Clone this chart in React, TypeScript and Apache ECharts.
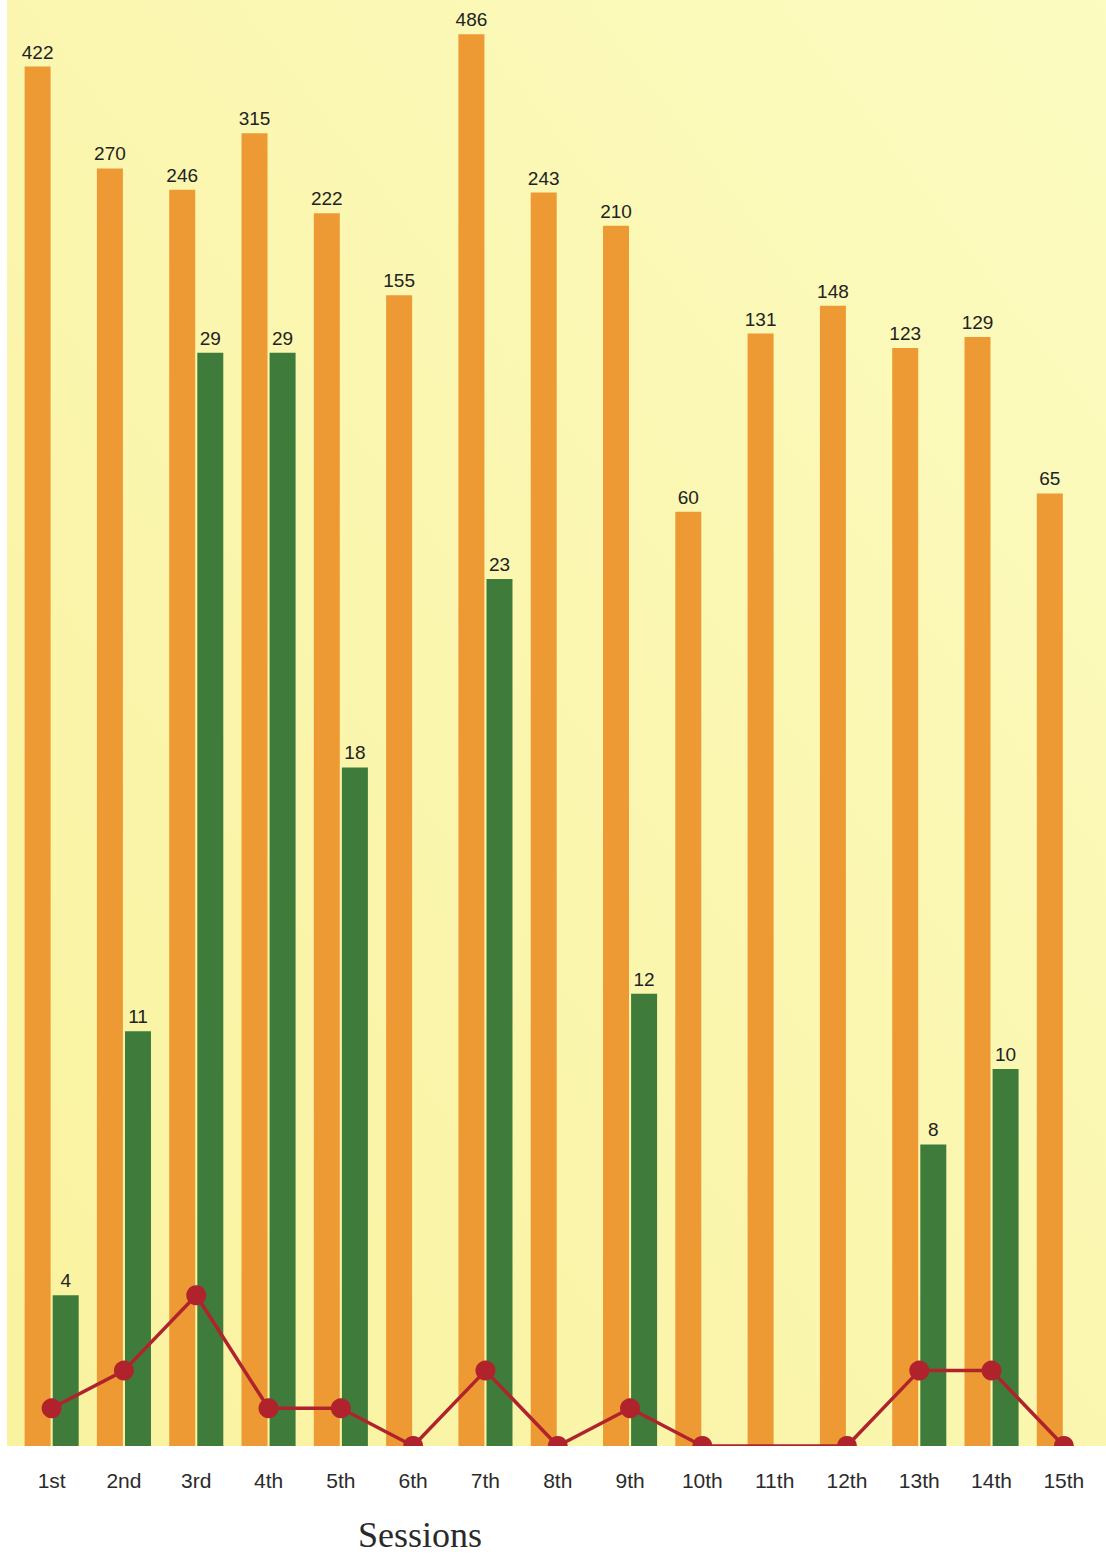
import React, { useEffect, useRef } from "react";
import * as echarts from "echarts";

const sessions = ["1st", "2nd", "3rd", "4th", "5th", "6th", "7th", "8th", "9th", "10th", "11th", "12th", "13th", "14th", "15th"];
const orangeValues = [422, 270, 246, 315, 222, 155, 486, 243, 210, 60, 131, 148, 123, 129, 65];
const greenValues: (number | null)[] = [4, 11, 29, 29, 18, null, 23, null, 12, null, null, null, 8, 10, null];
const redValues: (number | null)[] = [1, 2, 4, 1, 1, 0, 2, 0, 1, 0, null, 0, 2, 2, 0];
const axisTitle = "Sessions";

const ORANGE = "#ee9a34";
const GREEN = "#3f7c3c";
const RED = "#b0232c";

export default function App() {
  const ref = useRef<HTMLDivElement>(null);
  useEffect(() => {
    if (!ref.current) return;
    const chart = echarts.init(ref.current, null, { renderer: "svg" });
    chart.setOption({
      animation: false,
      backgroundColor: "#ffffff",
      grid: { left: 15.5, right: 6, top: 0, bottom: 108, containLabel: false },
      xAxis: {
        type: "category",
        data: sessions,
        z: 200,
        axisLine: { show: false },
        axisTick: { show: false },
        splitLine: { show: false },
        axisLabel: {
          fontSize: 21,
          color: "#2b2b2b",
          margin: 24,
          fontFamily: "Liberation Sans, Arial, sans-serif",
        },
      },
      yAxis: [
        { type: "log", logBase: 10, min: 1, max: 565, show: false },
        { type: "value", min: 0, max: 38.36, show: false },
      ],
      graphic: {
        elements: [
          {
            type: "rect",
            z: -10,
            shape: { x: 7, y: 0, width: 1099, height: 1446 },
            style: {
              fill: new echarts.graphic.LinearGradient(1, 0, 0, 1, [
                { offset: 0, color: "#fcfbc0" },
                { offset: 1, color: "#f9f29f" },
              ]),
            },
          },
          {
            type: "rect",
            z: 100,
            shape: { x: 0, y: 1446, width: 1106, height: 108 },
            style: { fill: "#ffffff" },
          },
          {
            type: "text",
            z: 300,
            x: 420,
            y: 1535,
            style: {
              text: axisTitle,
              font: "36px 'Liberation Serif', 'Times New Roman', serif",
              fill: "#2a2a2a",
              textAlign: "center",
              textVerticalAlign: "middle",
            },
          },
        ],
      },
      series: [
        {
          type: "bar",
          yAxisIndex: 0,
          data: orangeValues,
          barWidth: 26,
          barGap: "8%",
          itemStyle: { color: ORANGE },
          label: {
            show: true,
            position: "top",
            distance: 5,
            fontSize: 19,
            color: "#222",
            fontFamily: "Liberation Sans, Arial, sans-serif",
          },
        },
        {
          type: "bar",
          yAxisIndex: 1,
          data: greenValues,
          barWidth: 26,
          barGap: "8%",
          itemStyle: { color: GREEN },
          label: {
            show: true,
            position: "top",
            distance: 5,
            fontSize: 19,
            color: "#222",
            fontFamily: "Liberation Sans, Arial, sans-serif",
          },
        },
        {
          type: "line",
          yAxisIndex: 1,
          data: redValues,
          connectNulls: true,
          z: 10,
          symbol: "circle",
          symbolSize: 20,
          lineStyle: { color: RED, width: 3.5 },
          itemStyle: { color: RED },
        },
      ],
    });
    return () => chart.dispose();
  }, []);
  return (
    <div
      ref={ref}
      style={{ position: "absolute", left: 0, top: 0, width: 1106, height: 1554 }}
    />
  );
}
